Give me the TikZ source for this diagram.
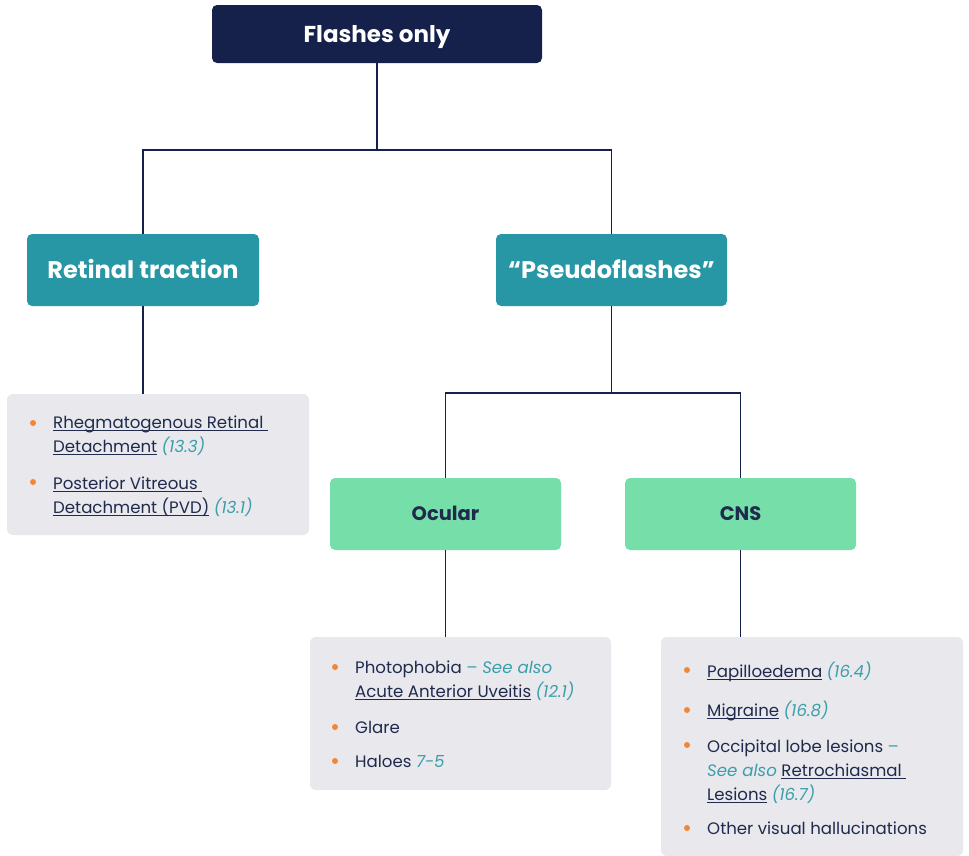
\documentclass[tikz,border=0pt]{standalone}
\usepackage{fontspec}
\setmainfont{Poppins}
\definecolor{navy}{HTML}{15214B}
\definecolor{txt}{HTML}{1F2A4D}
\definecolor{tealref}{HTML}{3A9FAA}
\definecolor{tealbox}{HTML}{2897A5}
\definecolor{greenbox}{HTML}{76DEA8}
\definecolor{graybox}{HTML}{E8E8ED}
\definecolor{orng}{HTML}{F0883A}
\newcommand\lnk[1]{\setbox0\hbox{#1}\rlap{\rule[-3.2pt]{\wd0}{0.8pt}}\box0\relax}
\newcommand\rf[1]{\textcolor{tealref}{\itshape #1}}
\begin{document}
\begin{tikzpicture}[x=1pt,y=-1pt,
  box/.style={rounded corners=5pt, inner sep=0pt, align=center, text depth=0pt},
  navybox/.style={box, fill=navy, text=white, text height=16pt, font=\fontsize{23}{27}\selectfont\bfseries},
  tealnode/.style={box, fill=tealbox, text=white, text height=17pt, font=\fontsize{24}{28}\selectfont\bfseries},
  greennode/.style={box, fill=greenbox, text=txt, text height=13.7pt, font=\fontsize{19.5}{23}\selectfont\bfseries},
  graynode/.style={rounded corners=6pt, fill=graybox, draw=none},
  conn/.style={draw=navy, line width=1.8pt},
  bul/.style={circle, fill=orng, inner sep=0pt, minimum size=6pt},
  item/.style={anchor=base west, inner sep=0pt, text=txt, font=\fontsize{16.6}{19}\selectfont}
]
\useasboundingbox (0,0) rectangle (969,855);
% boxes
\node[navybox, minimum width=330pt, minimum height=58pt] (top) at (377,34) {Flashes only};
\node[tealnode, minimum width=232pt, minimum height=72pt] (rt) at (143,270) {Retinal traction};
\node[tealnode, minimum width=231pt, minimum height=72pt] (pf) at (611.5,270) {“Pseudoflashes”};
\node[greennode, minimum width=231pt, minimum height=72pt] (oc) at (445.5,514) {Ocular};
\node[greennode, minimum width=231pt, minimum height=72pt] (cns) at (740.5,514) {CNS};
\node[graynode, minimum width=302pt, minimum height=141pt] (g1) at (158,464.5) {};
\node[graynode, minimum width=301pt, minimum height=153pt] (g2) at (460.5,713.5) {};
\node[graynode, minimum width=302pt, minimum height=219pt] (g3) at (812,746.5) {};
% connectors
\coordinate (j1) at (377,150);
\coordinate (j2) at (611.5,393);
\draw[conn] (top.south) -- (j1);
\draw[conn] (rt.north) |- (j1) -| (pf.north);
\draw[conn] (rt.south) -- (g1.north -| rt.south);
\draw[conn] (pf.south) -- (j2);
\draw[conn] (oc.north) |- (j2) -| (cns.north);
\draw[conn] (oc.south) -- (g2.north -| oc.south);
\draw[conn] (cns.south) -- (g3.north -| cns.south);
% box 1 text
\node[bul] (b11) at (33,423) {};
\node[item] (t11) at (53,428) {\lnk{Rhegmatogenous Retinal }};
\node[item] (t12) at (53,452) {\lnk{Detachment} \rf{(13.3)}};
\node[bul] (b12) at (33,482) {};
\node[item] (t13) at (53,489) {\lnk{Posterior Vitreous }};
\node[item] (t14) at (53,513) {\lnk{Detachment (PVD)} \rf{(13.1)}};
% box 2 text
\node[bul] (b21) at (335,667) {};
\node[item] (t21) at (355,673) {Photophobia \rf{– See also}};
\node[item] (t22) at (355,697) {\lnk{Acute Anterior Uveitis} \rf{(12.1)}};
\node[bul] (b22) at (335,727) {};
\node[item] (t23) at (355,733) {Glare};
\node[bul] (b23) at (335,761) {};
\node[item] (t24) at (355,767) {Haloes \rf{7-5}};
% box 3 text
\node[bul] (b31) at (687,670) {};
\node[item] (t31) at (707,677) {\lnk{Papilloedema} \rf{(16.4)}};
\node[bul] (b32) at (687,710) {};
\node[item] (t32) at (707,716) {\lnk{Migraine} \rf{(16.8)}};
\node[bul] (b33) at (687,745) {};
\node[item] (t33) at (707,752) {Occipital lobe lesions \textcolor{tealref}{–}};
\node[item] (t34) at (707,776) {\rf{See also} \lnk{Retrochiasmal }};
\node[item] (t35) at (707,800) {\lnk{Lesions} \rf{(16.7)}};
\node[bul] (b34) at (687,828) {};
\node[item] (t36) at (707,834) {Other visual hallucinations};
\end{tikzpicture}
\end{document}
